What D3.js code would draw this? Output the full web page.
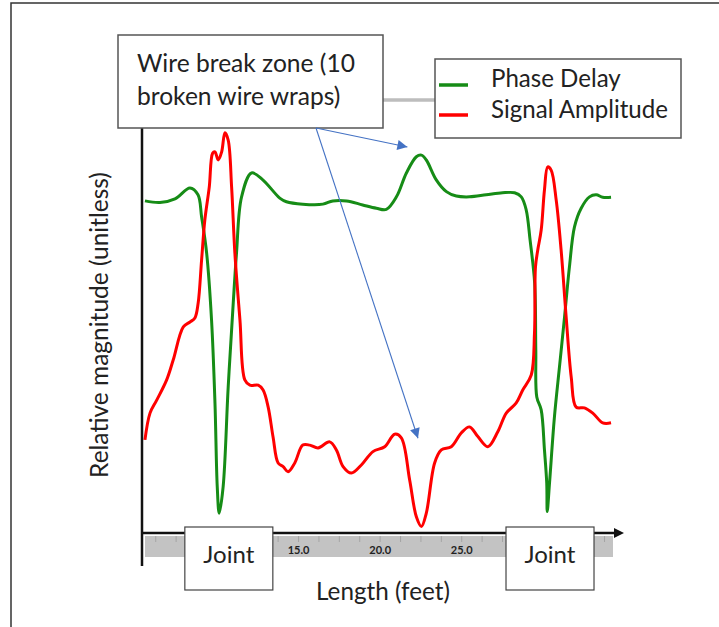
<!DOCTYPE html>
<html><head><meta charset="utf-8">
<script src="https://cdn.jsdelivr.net/npm/d3@7"></script>
<style>
body{margin:0;background:#fff}
svg{display:block}
text{font-family:Lato,"Open Sans",sans-serif;fill:#222}
</style>
</head><body>
<svg id="c" width="719" height="627"></svg>
<script>
// ---- data (x in feet, y relative magnitude 0..100) ----
const phaseDelay = [
[5.62,82.0],[6.54,81.6],[7.46,82.5],[8.38,85.2],[8.87,83.5],[9.09,78.1],[9.40,69.1],[9.70,52.6],[9.91,32.1],[10.05,11.4],[10.17,4.9],[10.41,11.4],[10.72,36.0],[11.03,56.8],[11.23,69.1],[11.54,83.0],[12.15,88.9],[12.84,87.2],[13.88,82.7],[14.29,81.8],[15.29,81.2],[16.52,81.2],[17.13,82.0],[17.97,82.0],[18.96,81.0],[19.80,80.2],[20.41,79.9],[21.03,83.0],[21.64,88.9],[22.25,92.9],[22.56,93.3],[22.86,92.1],[23.47,87.2],[24.09,84.3],[24.70,83.2],[25.51,83.0],[26.53,83.5],[27.53,84.0],[28.27,84.0],[28.68,83.0],[28.98,79.8],[29.22,72.3],[29.50,61.7],[29.57,45.2],[29.63,33.6],[29.90,30.4],[30.10,20.5],[30.24,12.3],[30.27,5.3],[30.41,12.3],[30.71,28.6],[31.02,41.0],[31.33,53.3],[31.63,65.7],[31.94,75.6],[32.35,80.2],[32.86,83.0],[33.27,83.5],[33.67,82.9],[34.18,82.9]
];
const signalAmplitude = [
[5.62,23.0],[5.93,29.6],[6.34,32.8],[6.95,37.8],[7.35,42.7],[7.97,50.9],[8.38,52.1],[8.68,53.1],[8.88,56.8],[9.09,67.4],[9.29,77.3],[9.56,85.4],[9.77,93.8],[9.91,94.1],[10.11,92.1],[10.32,94.1],[10.52,98.8],[10.72,97.0],[10.93,85.4],[11.13,69.1],[11.44,52.6],[11.74,37.8],[12.05,36.5],[12.56,36.5],[12.86,35.3],[13.17,31.1],[13.47,23.7],[13.78,17.3],[14.09,16.4],[14.39,15.1],[14.80,17.3],[15.29,21.7],[15.72,21.7],[16.23,21.0],[16.94,22.5],[17.35,20.5],[17.76,16.4],[18.27,14.8],[18.88,16.8],[19.59,20.1],[20.31,21.3],[20.92,24.4],[21.33,23.5],[21.84,13.1],[22.25,4.0],[22.56,1.6],[22.86,4.9],[23.37,17.3],[23.78,20.5],[24.39,21.3],[25.00,24.7],[25.51,26.2],[26.02,23.8],[26.63,21.3],[27.24,25.0],[27.76,29.6],[28.37,32.1],[28.77,35.3],[29.29,39.0],[29.49,49.4],[29.55,65.7],[29.69,69.9],[29.90,74.8],[30.10,84.7],[30.30,90.4],[30.51,89.6],[30.82,82.2],[31.12,69.9],[31.43,53.3],[31.74,38.5],[32.04,31.1],[32.55,30.9],[33.06,29.6],[33.67,27.2],[34.18,27.2]
];
const seriesNames = ["Phase Delay", "Signal Amplitude"];
const seriesColors = ["#168c16", "#ff0000"];
const minorTicks = d3.range(6.25, 34.3, 1.25);
const labeledTicks = [15, 20, 25];
const jointCenters = [10.76, 30.44];
const jointLabel = "Joint";
const annotationLines = ["Wire break zone (10", "broken wire wraps)"];
const arrowTargets = [[21.7, 95.3], [22.35, 23.4]];
const xTitle = "Length (feet)";
const yTitle = "Relative magnitude (unitless)";

// ---- drawing ----
const svg = d3.select("#c");
const x = d3.scaleLinear().domain([5.5, 34.3]).range([143, 613]);
const y = d3.scaleLinear().domain([0, 100]).range([533, 128]);

function fit(sel, w) {
  const len = sel.node().getComputedTextLength();
  const fs = parseFloat(sel.attr("font-size"));
  sel.attr("font-size", fs * w / len);
  return fs * w / len;
}

// outer frame
svg.append("rect").attr("x", 11).attr("y", 3).attr("width", 800).attr("height", 700)
  .attr("fill", "none").attr("stroke", "#333").attr("stroke-width", 1.5);

// gray band
svg.append("rect").attr("x", 145).attr("y", 536).attr("width", 468).attr("height", 21).attr("fill", "#c3c3c3");

// axis ticks in band
const ax = svg.append("g").attr("transform", "translate(0,536)")
  .call(d3.axisBottom(x).tickValues(minorTicks).tickSize(6)
    .tickFormat(d => labeledTicks.includes(d) ? d3.format(".1f")(d) : ""));
ax.select(".domain").remove();
ax.selectAll(".tick line").attr("stroke", "#a5a5a5");
ax.selectAll(".tick text").attr("font-size", 11).attr("font-weight", "bold")
  .attr("fill", "#555").attr("y", 10).attr("dy", "0.71em").style("font-family", "Lato, sans-serif");

// curves
const line = d3.line().x(d => x(d[0])).y(d => y(d[1])).curve(d3.curveCatmullRom.alpha(0.5));
[phaseDelay, signalAmplitude].forEach((s, i) => {
  svg.append("path").datum(s).attr("d", line).attr("fill", "none")
    .attr("stroke", seriesColors[i]).attr("stroke-width", 3).attr("stroke-linejoin", "round");
});

// axes lines
svg.append("line").attr("x1", 142).attr("x2", 142).attr("y1", 128).attr("y2", 566)
  .attr("stroke", "#111").attr("stroke-width", 2.5);
svg.append("line").attr("x1", 142).attr("x2", 616).attr("y1", y(0)).attr("y2", y(0))
  .attr("stroke", "#111").attr("stroke-width", 2.5);
svg.append("path").attr("d", `M614,${y(0)-5}L624,${y(0)}L614,${y(0)+5}Z`).attr("fill", "#111");

// joint boxes
jointCenters.forEach(c => {
  svg.append("rect").attr("x", x(c) - 44).attr("y", 527).attr("width", 88).attr("height", 63)
    .attr("fill", "#fff").attr("stroke", "#444").attr("stroke-width", 1.2);
  const t = svg.append("text").attr("x", x(c)).attr("y", 563).attr("text-anchor", "middle")
    .attr("font-size", 24).text(jointLabel);
  fit(t, 51);
});

// axis titles
const xt = svg.append("text").attr("x", 383).attr("y", 600).attr("text-anchor", "middle")
  .attr("font-size", 22).text(xTitle);
fit(xt, 134);
const yt = svg.append("text").attr("transform", "translate(108,325) rotate(-90)")
  .attr("text-anchor", "middle").attr("font-size", 22).text(yTitle);
fit(yt, 306);

// connector
svg.append("line").attr("x1", 383).attr("x2", 435).attr("y1", 100).attr("y2", 100)
  .attr("stroke", "#bdbdbd").attr("stroke-width", 3.5);

// annotation box
svg.append("rect").attr("x", 118).attr("y", 35).attr("width", 265).attr("height", 93)
  .attr("fill", "#fff").attr("stroke", "#555").attr("stroke-width", 1.5);
const a1 = svg.append("text").attr("x", 137).attr("y", 72).attr("font-size", 22).text(annotationLines[0]);
const afs = fit(a1, 218);
svg.append("text").attr("x", 137).attr("y", 105).attr("font-size", afs).text(annotationLines[1]);

// arrows
const defs = svg.append("defs");
defs.append("marker").attr("id", "ah").attr("viewBox", "0 0 10 10").attr("refX", 10).attr("refY", 5)
  .attr("markerWidth", 14).attr("markerHeight", 10).attr("markerUnits", "userSpaceOnUse")
  .attr("orient", "auto").append("path").attr("d", "M0,0L10,5L0,10Z").attr("fill", "#4472c4");
arrowTargets.forEach(t => {
  svg.append("line").attr("x1", 316).attr("y1", 128).attr("x2", x(t[0])).attr("y2", y(t[1]))
    .attr("stroke", "#4472c4").attr("stroke-width", 1.1).attr("marker-end", "url(#ah)");
});

// legend
svg.append("rect").attr("x", 435).attr("y", 59).attr("width", 246).attr("height", 79)
  .attr("fill", "#fff").attr("stroke", "#555").attr("stroke-width", 1.5);
const lg = [85, 115];
const ltxt = [87, 118];
seriesNames.forEach((n, i) => {
  svg.append("line").attr("x1", 439).attr("x2", 468).attr("y1", lg[i]).attr("y2", lg[i])
    .attr("stroke", seriesColors[i]).attr("stroke-width", 3.5);
});
const l2 = svg.append("text").attr("x", 491).attr("y", ltxt[1]).attr("font-size", 22).text(seriesNames[1]);
const lfs = fit(l2, 177);
svg.append("text").attr("x", 491).attr("y", ltxt[0]).attr("font-size", lfs).text(seriesNames[0]);
</script>
</body></html>
